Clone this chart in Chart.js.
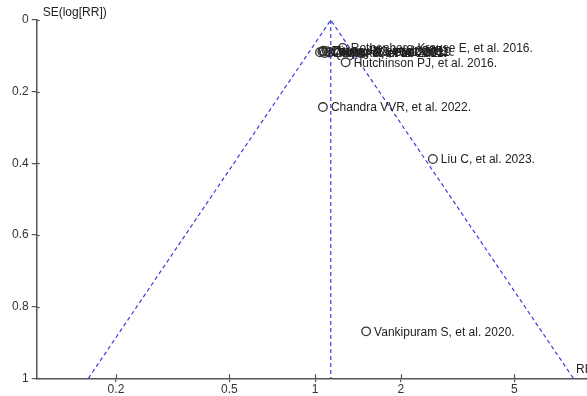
<!DOCTYPE html>
<html>
<head>
<meta charset="utf-8">
<script src="https://cdn.jsdelivr.net/npm/chart.js@4/dist/chart.umd.min.js"></script>
<style>
  html, body { margin: 0; padding: 0; background: #fff; }
  #wrap { width: 587px; height: 396px; position: relative; overflow: hidden; }
</style>
</head>
<body>
<div id="wrap"><canvas id="c" width="587" height="396"></canvas></div>
<script>
// ---- data ----
const studyLabels = [
  "Vankipuram S, et al. 2020.",
  "Liu C, et al. 2023.",
  "Chandra VVR, et al. 2022.",
  "Hutchinson PJ, et al. 2016.",
  "Rothenberg-Krause E, et al. 2016.",
  "Kolias AG, et al. 2023.",
  "Cooper DJ, et al. 2011.",
  "Qiu W, et al. 2009.",
  "Jiang JY, et al. 2005.",
  "Taylor A, et al. 2001.",
  "Wang YX, et al. 2019.",
  "Zhang HK, et al. 2021."
];
const studyRR = [1.51, 2.59, 1.065, 1.28, 1.25, 1.04, 1.06, 1.08, 1.10, 1.12, 1.13, 1.07];
const studySE = [0.869, 0.388, 0.243, 0.118, 0.078, 0.090, 0.088, 0.092, 0.087, 0.091, 0.089, 0.086];

const pooledRR = 1.135;
const funnelLowRR = 0.160;
const funnelHighRR = 8.06;
const funnelSEMax = 1;

const xTickValues = [0.2, 0.5, 1, 2, 5];
const yTickValues = [0, 0.2, 0.4, 0.6, 0.8, 1];
const xRange = [0.1054, 9.0];
const yRange = [0, 1];

const yAxisTitle = "SE(log[RR])";
const xAxisTitle = "RR";

// ---- chart ----
const FONT = "'Liberation Sans', Arial, sans-serif";
const funnelColor = "rgb(60,60,220)";

const labelPlugin = {
  id: "labels",
  afterDatasetsDraw(chart) {
    const ctx = chart.ctx;
    const xs = chart.scales.x, ys = chart.scales.y;
    ctx.save();
    // inner parts of the crossing ticks
    ctx.strokeStyle = "#555";
    ctx.lineWidth = 1.2;
    xTickValues.forEach(v => {
      const px = Math.round(xs.getPixelForValue(v)) + 0.5;
      ctx.beginPath(); ctx.moveTo(px, ys.bottom); ctx.lineTo(px, ys.bottom - 4); ctx.stroke();
    });
    yTickValues.forEach(v => {
      const py = Math.round(ys.getPixelForValue(v)) + 0.5;
      ctx.beginPath(); ctx.moveTo(xs.left, py); ctx.lineTo(xs.left + 3, py); ctx.stroke();
    });
    // study labels
    ctx.fillStyle = "#222";
    ctx.font = "12px " + FONT;
    ctx.textBaseline = "middle";
    ctx.textAlign = "left";
    const meta = chart.getDatasetMeta(2);
    meta.data.forEach((el, i) => {
      ctx.fillText(studyLabels[i], el.x + 8, el.y + 1);
    });
    // axis titles
    ctx.fillStyle = "#222";
    ctx.textBaseline = "alphabetic";
    ctx.fillText(yAxisTitle, xs.left + 6, ys.top - 4);
    ctx.fillText(xAxisTitle, 576, ys.bottom - 5);
    ctx.restore();
  }
};

new Chart(document.getElementById("c"), {
  type: "scatter",
  data: {
    datasets: [
      {
        data: [{x: funnelLowRR, y: funnelSEMax}, {x: pooledRR, y: 0}, {x: funnelHighRR, y: funnelSEMax}],
        showLine: true, borderColor: funnelColor, borderWidth: 1.2, borderDash: [4, 3],
        pointRadius: 0, fill: false, clip: false
      },
      {
        data: [{x: pooledRR, y: 0}, {x: pooledRR, y: funnelSEMax}],
        showLine: true, borderColor: funnelColor, borderWidth: 1.2, borderDash: [4, 3],
        pointRadius: 0, fill: false, clip: false
      },
      {
        data: studyRR.map((v, i) => ({x: v, y: studySE[i]})),
        showLine: false, pointStyle: "circle", pointRadius: 4.3,
        borderColor: "#333", backgroundColor: "rgba(0,0,0,0)", borderWidth: 1.3, clip: false
      }
    ]
  },
  options: {
    responsive: false,
    animation: false,
    events: [],
    layout: { autoPadding: false, padding: { top: 20, right: 0, bottom: 0, left: 0 } },
    plugins: { legend: { display: false }, tooltip: { enabled: false } },
    scales: {
      x: {
        type: "logarithmic",
        min: xRange[0], max: xRange[1],
        afterBuildTicks: s => { s.ticks = xTickValues.map(v => ({value: v})); },
        afterFit: s => { s.height = 17.7; },
        ticks: { color: "#333", font: { family: FONT, size: 12 }, padding: 0, maxRotation: 0,
                 autoSkip: false, callback: v => String(v) },
        grid: { display: true, drawOnChartArea: false, drawTicks: true, tickLength: 4, color: "#555", lineWidth: 1.2 },
        border: { display: true, color: "#555", width: 1.5 }
      },
      y: {
        type: "linear", reverse: true,
        min: yRange[0], max: yRange[1],
        afterBuildTicks: s => { s.ticks = yTickValues.map(v => ({value: v})); },
        afterFit: s => { s.width = 36.7; },
        ticks: { color: "#333", font: { family: FONT, size: 12 }, padding: 3, autoSkip: false,
                 callback: v => String(v) },
        grid: { display: true, drawOnChartArea: false, drawTicks: true, tickLength: 5, color: "#555", lineWidth: 1.2 },
        border: { display: true, color: "#555", width: 1.5 }
      }
    }
  },
  plugins: [labelPlugin]
});
</script>
</body>
</html>
